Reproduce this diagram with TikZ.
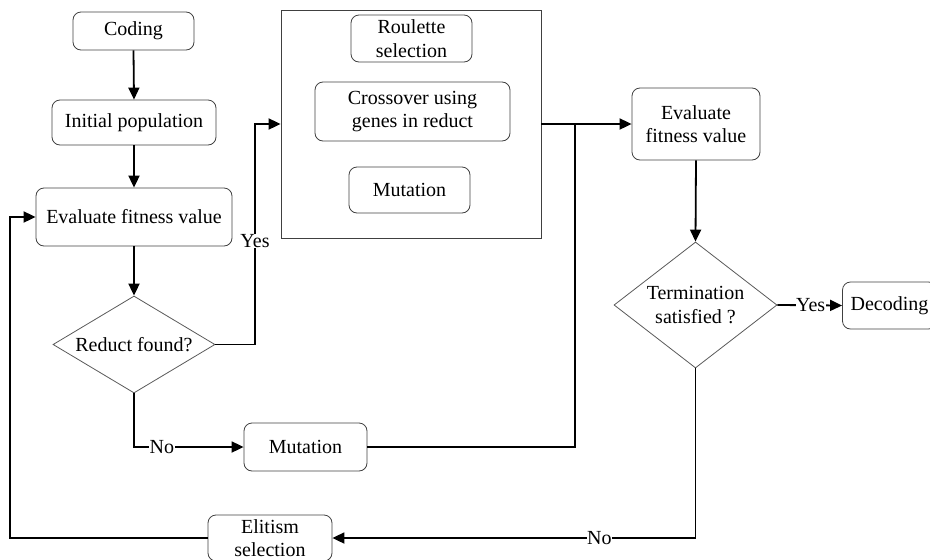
\documentclass[tikz,border=0pt]{standalone}
\usepackage{fontspec}
\setmainfont{Liberation Serif}
\usetikzlibrary{shapes.geometric,arrows.meta}
\begin{document}
\begin{tikzpicture}[x=1pt,y=-1pt,
  font=\fontsize{20}{23.5}\selectfont,
  box/.style={draw=black!75, line width=0.8pt, rounded corners=8pt, align=center, inner sep=1pt},
  frame/.style={draw=black!75, line width=0.8pt, inner sep=0pt},
  dec/.style={draw=black!65, line width=0.8pt, diamond, align=center, inner sep=0pt},
  conn/.style={line width=1.8pt},
  arr/.style={conn, -{Triangle[length=12pt,width=11pt]}},
  lab/.style={fill=white, inner sep=0.5pt}]
\useasboundingbox (0,0) rectangle (930,560);

% left column
\node[box, minimum width=121pt, minimum height=38pt] (coding) at (133.5,31) {Coding};
\node[box, minimum width=164pt, minimum height=45pt] (init) at (134,122.5) {Initial population};
\node[box, minimum width=196pt, minimum height=58pt] (eval1) at (134,217) {Evaluate fitness value};
\node[dec, aspect=1.67, minimum width=162pt, minimum height=97pt] (reduct) at (134,344.5) {Reduct found?};

% big frame
\node[frame, minimum width=260pt, minimum height=228pt] (bigbox) at (411,124) {};
\node[box, minimum width=121pt, minimum height=47pt] (roul) at (411.5,38.5) {Roulette\\selection};
\node[box, minimum width=195pt, minimum height=59pt] (cross) at (412.5,111.5) {Crossover using\\genes in reduct};
\node[box, minimum width=121pt, minimum height=46pt] (mut1) at (409.5,190) {Mutation};

% right column
\node[box, minimum width=128pt, minimum height=72pt] (eval2) at (696,124) {Evaluate\\fitness value};
\node[dec, aspect=1.29, minimum width=163pt, minimum height=126pt] (term) at (695.5,305) {Termination\\satisfied ?};
\node[box, minimum width=94pt, minimum height=47pt] (decod) at (889.5,305.5) {Decoding};

% bottom
\node[box, minimum width=123pt, minimum height=48pt] (mut2) at (305.5,447) {Mutation};
\node[box, minimum width=124pt, minimum height=46pt] (elit) at (270,538) {Elitism\\selection};

% helper coordinates
\coordinate (yb) at (255,344.5);
\coordinate (yt) at (255,124);
\coordinate (nc) at (134,447);
\coordinate (j1) at (575,447);
\coordinate (j2) at (575,124);
\coordinate (tc) at (695.5,538);
\coordinate (l1) at (10,538);
\coordinate (l2) at (10,217);

% connectors
\draw[arr] (coding.south) -- (init.north);
\draw[arr] (init.south) -- (eval1.north);
\draw[arr] (eval1.south) -- (reduct.north);
\draw[arr] (reduct.east) -- (yb) -- node[lab, pos=0.47] {Yes} (yt) -- (bigbox.west);
\draw[arr] (bigbox.east) -- (eval2.west);
\draw[arr] (reduct.south) -- (nc) -- node[lab, pos=0.255] {No} (mut2.west);
\draw[conn] (mut2.east) -- (j1) -- (j2);
\draw[arr] (eval2.south) -- (term.north);
\draw[arr] (term.east) -- node[lab, pos=0.515] {Yes} (decod.west);
\draw[arr] (term.south) -- (tc) -- node[lab, pos=0.265] {No} (elit.east);
\draw[arr] (elit.west) -- (l1) -- (l2) -- (eval1.west);
\end{tikzpicture}
\end{document}
